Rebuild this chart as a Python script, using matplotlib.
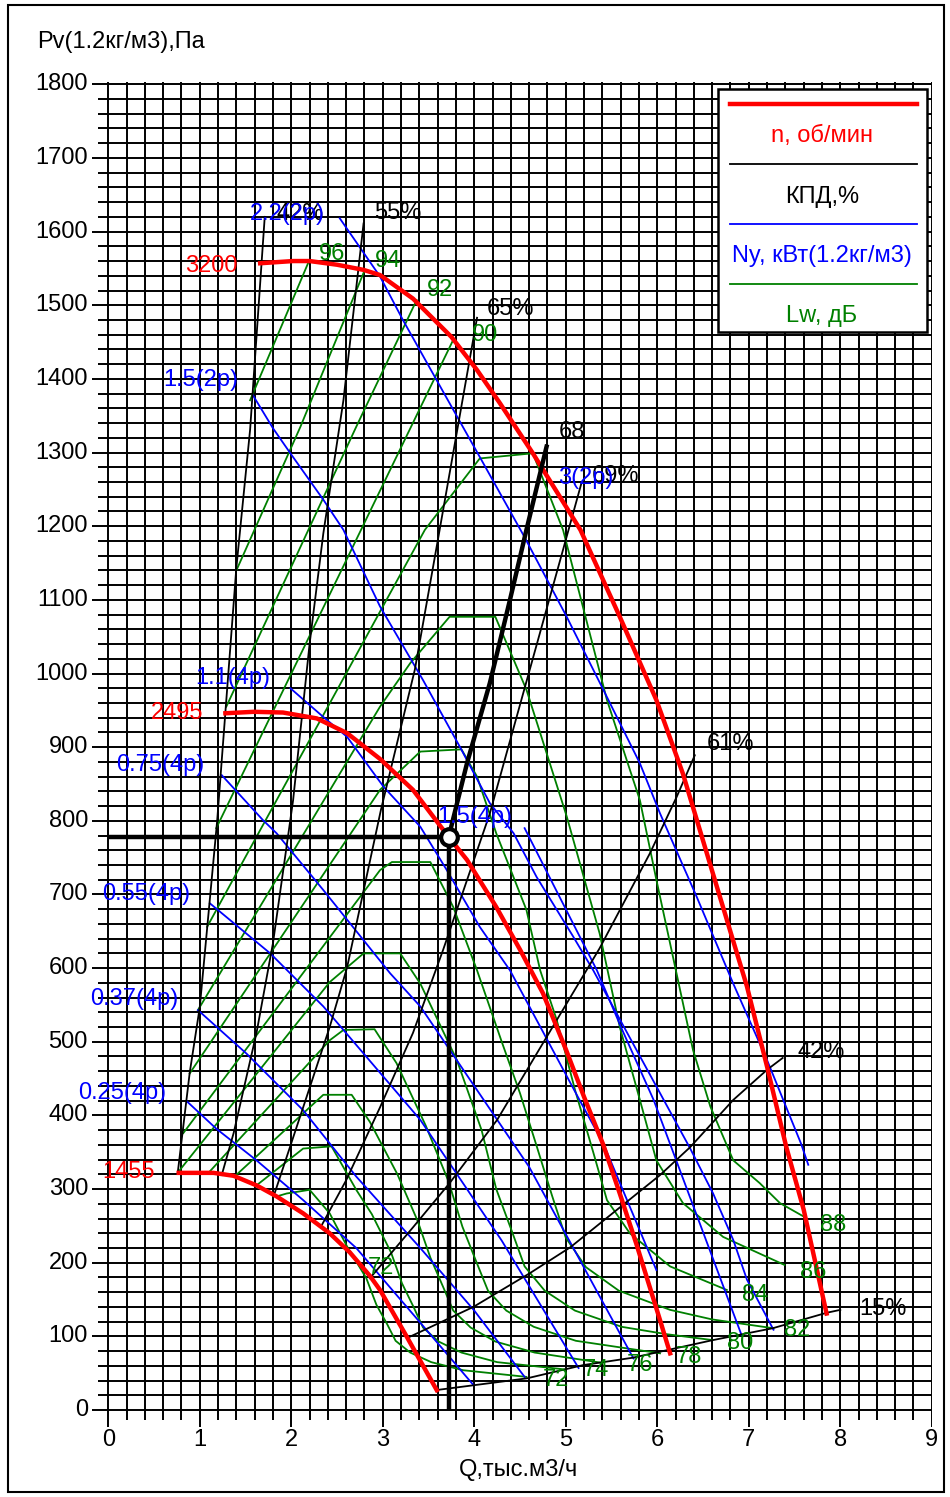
import matplotlib
matplotlib.use("Agg")
import matplotlib.pyplot as plt
from matplotlib.patches import Rectangle

plt.rcParams['font.family'] = ['Liberation Sans', 'DejaVu Sans']

# ---- fan curves, n rpm (Q thousand m3/h, Pv Pa)
n3200_q = [1.66, 2.02, 2.2, 2.5, 2.79, 2.97, 3.33, 3.75, 4.03, 4.28, 4.64, 5.16, 5.59, 5.99, 6.28, 6.65, 6.98, 7.2, 7.41, 7.6, 7.85]
n3200_p = [1557, 1560, 1560, 1555, 1548, 1541, 1509, 1457, 1412, 1367, 1299, 1195, 1077, 964, 864, 711, 575, 466, 357, 272, 131]
n2495_q = [1.28, 1.59, 1.91, 2.28, 2.61, 2.97, 3.33, 3.72, 3.92, 4.24, 4.5, 4.75, 5.0, 5.2, 5.41, 5.59, 5.77, 6.03, 6.14]
n2495_p = [946, 948, 947, 939, 919, 884, 842, 778, 747, 683, 625, 566, 490, 425, 360, 294, 226, 122, 77]
n1455_q = [0.77, 1.15, 1.37, 1.62, 1.84, 2.13, 2.42, 2.64, 2.86, 2.97, 3.26, 3.59]
n1455_p = [322, 322, 318, 305, 290, 267, 240, 214, 182, 163, 100, 27]

# ---- efficiency lines
eff42a_q = [0.76, 0.89, 1.0, 1.19, 1.29, 1.4, 1.55, 1.71]
eff42a_p = [323, 458, 547, 800, 964, 1144, 1331, 1620]
eff55_q = [1.24, 1.37, 1.62, 1.8, 2.02, 2.2, 2.35, 2.57, 2.79]
eff55_p = [319, 376, 512, 634, 828, 1040, 1190, 1371, 1611]
eff65_q = [1.82, 2.13, 2.42, 2.61, 2.98, 3.35, 3.6, 4.03]
eff65_p = [295, 411, 520, 601, 815, 1005, 1180, 1483]
eff69_q = [2.32, 2.6, 2.97, 3.33, 3.66, 4.17, 4.97, 5.17]
eff69_p = [248, 312, 411, 512, 625, 810, 1168, 1258]
eff61_q = [2.86, 3.33, 3.73, 4.25, 4.75, 5.37, 5.92, 6.21, 6.41]
eff61_p = [179, 248, 308, 394, 498, 627, 756, 832, 889]
eff42b_q = [3.27, 3.99, 4.61, 5.05, 5.56, 6.03, 6.36, 6.83, 7.2, 7.37]
eff42b_p = [98, 140, 186, 221, 272, 319, 357, 421, 462, 478]
eff15_q = [3.58, 4.575, 5.19, 5.73, 6.61, 7.26, 7.85, 8.0]
eff15_p = [27, 43, 61, 71, 95, 111, 132, 136]

# ---- system curve and operating point
sys_q = [3.72, 3.92, 4.17, 4.39, 4.57, 4.79]
sys_p = [778, 878, 987, 1100, 1195, 1308]
op_q = 3.72
op_p = 778

# ---- motor power lines, kW
pw22_q = [2.53, 2.97, 3.22, 3.59, 4.06, 4.55, 5.01, 5.41, 5.81, 6.03, 6.43, 6.83, 7.2, 7.57, 7.65]
pw22_p = [1618, 1539, 1480, 1398, 1294, 1185, 1077, 978, 878, 810, 697, 579, 475, 362, 333]
pw15b_q = [1.58, 1.8, 1.99, 2.35, 2.57, 2.97, 3.44, 3.84, 4.17, 4.43, 4.68, 5.08, 5.3, 5.61, 6.36, 6.61, 6.83, 6.98, 7.27]
pw15b_p = [1378, 1333, 1299, 1236, 1195, 1091, 991, 901, 824, 783, 724, 643, 597, 526, 355, 294, 231, 177, 109]
pw11_q = [1.99, 2.35, 2.61, 3.01, 3.41, 3.7, 4.06, 4.39, 5.15, 5.41, 5.99]
pw11_p = [980, 941, 914, 846, 792, 733, 656, 597, 421, 362, 190]
pw15_q = [4.55, 5.34, 5.61, 5.96, 6.92]
pw15_p = [790, 597, 518, 421, 102]
pw075_q = [1.24, 1.69, 1.84, 2.35, 3.08, 3.41, 4.6, 5.74]
pw075_p = [862, 801, 783, 706, 593, 548, 330, 70]
pw055_q = [1.11, 1.77, 2.35, 3.41, 4.3, 5.14]
pw055_p = [688, 620, 548, 394, 230, 57]
pw037_q = [0.98, 1.51, 2.13, 2.71, 3.41, 4.0, 4.55]
pw037_p = [543, 484, 407, 317, 220, 135, 45]
pw025_q = [0.86, 1.18, 1.62, 2.13, 2.71, 3.4, 3.99]
pw025_p = [419, 382, 339, 285, 220, 120, 34]

# ---- sound power Lw, dB
lw96_q = [1.55, 2.19]
lw96_p = [1371, 1559]
lw94_q = [1.4, 2.1, 2.8]
lw94_p = [1140, 1335, 1547]
lw92_q = [1.29, 2.71, 3.37]
lw92_p = [955, 1335, 1507]
lw90_q = [1.18, 3.77]
lw90_p = [790, 1453]
lw88_q = [1.08, 3.46, 4.06, 4.64, 4.97, 5.45, 5.81, 5.99, 6.21, 6.39, 6.58, 6.83, 7.12, 7.34, 7.61]
lw88_p = [656, 1195, 1292, 1299, 1195, 964, 828, 720, 593, 489, 412, 339, 308, 281, 262]
lw86_q = [0.98, 2.97, 3.3, 3.73, 4.23, 4.57, 5.01, 5.37, 5.59, 5.81, 5.99, 6.28, 6.72, 7.39]
lw86_p = [543, 955, 1014, 1077, 1077, 978, 806, 647, 520, 421, 339, 281, 235, 197]
lw84_q = [0.89, 2.97, 3.41, 3.86, 4.03, 4.24, 4.57, 4.72, 4.9, 5.1, 5.3, 5.45, 5.7, 6.14, 6.76]
lw84_p = [457, 842, 894, 897, 860, 783, 679, 597, 530, 435, 350, 285, 240, 195, 163]
lw82_q = [0.82, 2.97, 3.1, 3.52, 3.77, 4.03, 4.3, 4.5, 4.68, 4.85, 5.0, 5.22, 5.58, 6.14, 6.6, 7.27]
lw82_p = [376, 733, 744, 744, 683, 597, 500, 430, 359, 291, 234, 194, 162, 136, 123, 111]
lw80_q = [0.77, 2.42, 2.79, 3.19, 3.41, 3.81, 4.08, 4.24, 4.41, 4.55, 4.77, 5.1, 5.61, 6.1, 6.6]
lw80_p = [324, 581, 620, 620, 579, 475, 380, 300, 243, 195, 162, 135, 113, 103, 95]
lw78_q = [1.11, 2.42, 2.57, 2.91, 3.15, 3.47, 3.72, 3.87, 4.02, 4.15, 4.35, 4.65, 5.11, 6.03]
lw78_p = [324, 502, 516, 517, 471, 386, 310, 249, 202, 162, 135, 113, 94, 77]
lw76_q = [1.38, 2.35, 2.66, 2.86, 3.16, 3.38, 3.52, 3.66, 3.77, 3.96, 4.23, 4.66, 5.4]
lw76_p = [317, 428, 428, 391, 320, 257, 207, 167, 135, 112, 93, 78, 64]
lw74_q = [1.62, 2.13, 2.44, 2.71, 2.88, 3.09, 3.21, 3.34, 3.44, 3.61, 3.86, 4.25, 5.0]
lw74_p = [305, 355, 358, 299, 266, 214, 172, 139, 112, 93, 78, 65, 55]
lw72_q = [1.84, 1.95, 2.2, 2.42, 2.61, 2.82, 2.93, 3.05, 3.14, 3.3, 3.53, 3.88, 4.57]
lw72_p = [290, 294, 299, 267, 222, 179, 143, 116, 94, 78, 65, 54, 45]

x_ticks = [0, 1, 2, 3, 4, 5, 6, 7, 8, 9]
y_ticks = list(range(0, 1900, 100))

RED = '#ff0000'
BLUE = '#0000ff'
GREEN = '#008000'
FS = 17

fig = plt.figure(figsize=(9.5, 14.97), dpi=100)
ax = fig.add_axes([0.08989, 0.04088, 0.89095, 0.90528])
ax.set_xlim(-0.25, 9.0)
ax.set_ylim(-35, 1805)
ax.axis('off')

# grid with tick stubs
for i in range(46):
    x = i * 0.2
    ybot = -23 if i % 5 == 0 else -14
    ax.plot([x, x], [ybot, 1803], color='black', lw=1.4, zorder=1, solid_capstyle='butt')
for j in range(91):
    y = j * 20
    xl = -0.18 if j % 5 == 0 else -0.11
    ax.plot([xl, 9.0], [y, y], color='black', lw=1.4, zorder=1, solid_capstyle='butt')

for x in x_ticks:
    ax.text(x, -41, str(x), ha='center', va='center', fontsize=FS)
for y in y_ticks:
    ax.text(-0.222, y, str(y), ha='right', va='center', fontsize=FS)

# sound power
for q, p in [(lw96_q, lw96_p), (lw94_q, lw94_p), (lw92_q, lw92_p), (lw90_q, lw90_p),
             (lw88_q, lw88_p), (lw86_q, lw86_p), (lw84_q, lw84_p), (lw82_q, lw82_p),
             (lw80_q, lw80_p), (lw78_q, lw78_p), (lw76_q, lw76_p), (lw74_q, lw74_p),
             (lw72_q, lw72_p)]:
    ax.plot(q, p, color=GREEN, lw=1.3, zorder=3)

# power
for q, p in [(pw22_q, pw22_p), (pw15b_q, pw15b_p), (pw11_q, pw11_p), (pw15_q, pw15_p),
             (pw075_q, pw075_p), (pw055_q, pw055_p), (pw037_q, pw037_p), (pw025_q, pw025_p)]:
    ax.plot(q, p, color=BLUE, lw=1.3, zorder=4)

# efficiency
for q, p in [(eff42a_q, eff42a_p), (eff55_q, eff55_p), (eff65_q, eff65_p), (eff69_q, eff69_p),
             (eff61_q, eff61_p), (eff42b_q, eff42b_p), (eff15_q, eff15_p)]:
    ax.plot(q, p, color='black', lw=1.3, zorder=5)

# fan curves
for q, p in [(n3200_q, n3200_p), (n2495_q, n2495_p), (n1455_q, n1455_p)]:
    ax.plot(q, p, color=RED, lw=3.2, zorder=6)

# operating point
ax.plot([0, op_q], [op_p, op_p], color='black', lw=3.2, zorder=7, solid_capstyle='butt')
ax.plot([op_q, op_q], [0, op_p], color='black', lw=3.2, zorder=7, solid_capstyle='butt')
ax.plot(sys_q, sys_p, color='black', lw=3.2, zorder=7)
ax.plot([op_q], [op_p], marker='o', ms=12, mfc='white', mec='black', mew=3, zorder=8)

# labels
ax.text(1.41, 1553, '3200', color=RED, fontsize=FS, ha='right', va='center', zorder=9)
ax.text(1.04, 946, '2495', color=RED, fontsize=FS, ha='right', va='center', zorder=9)
ax.text(0.51, 323, '1455', color=RED, fontsize=FS, ha='right', va='center', zorder=9)

ax.text(1.84, 1624, '42%', fontsize=FS, ha='left', va='center', zorder=9)
ax.text(2.91, 1625, '55%', fontsize=FS, ha='left', va='center', zorder=9)
ax.text(4.14, 1495, '65%', fontsize=FS, ha='left', va='center', zorder=9)
ax.text(4.92, 1328, '68', fontsize=FS, ha='left', va='center', zorder=9)
ax.text(5.28, 1268, '69%', fontsize=FS, ha='left', va='center', zorder=9)
ax.text(6.54, 904, '61%', fontsize=FS, ha='left', va='center', zorder=9)
ax.text(7.53, 486, '42%', fontsize=FS, ha='left', va='center', zorder=9)
ax.text(8.21, 137, '15%', fontsize=FS, ha='left', va='center', zorder=9)

ax.text(1.55, 1624, '2.2(2p)', color=BLUE, fontsize=FS, ha='left', va='center', zorder=10)
ax.text(0.6, 1398, '1.5(2p)', color=BLUE, fontsize=FS, ha='left', va='center', zorder=10)
ax.text(4.92, 1265, '3(2p)', color=BLUE, fontsize=FS, ha='left', va='center', zorder=10)
ax.text(0.95, 994, '1.1(4p)', color=BLUE, fontsize=FS, ha='left', va='center', zorder=10)
ax.text(0.085, 876, '0.75(4p)', color=BLUE, fontsize=FS, ha='left', va='center', zorder=10)
ax.text(3.59, 805, '1.5(4p)', color=BLUE, fontsize=FS, ha='left', va='center', zorder=10)
ax.text(-0.07, 701, '0.55(4p)', color=BLUE, fontsize=FS, ha='left', va='center', zorder=10)
ax.text(-0.2, 558, '0.37(4p)', color=BLUE, fontsize=FS, ha='left', va='center', zorder=10)
ax.text(-0.33, 430, '0.25(4p)', color=BLUE, fontsize=FS, ha='left', va='center', zorder=10)

for txt, x, y in [('96', 2.3, 1570), ('94', 2.915, 1560), ('92', 3.48, 1521), ('90', 3.97, 1460),
                  ('88', 7.78, 251), ('86', 7.56, 187), ('84', 6.93, 156), ('82', 7.39, 109),
                  ('80', 6.76, 91), ('78', 6.2, 72), ('76', 5.67, 61), ('74', 5.19, 54),
                  ('72', 4.75, 41), ('72', 2.84, 193)]:
    ax.text(x, y, txt, color=GREEN, fontsize=FS, ha='left', va='center', zorder=9)

# legend box
ax.add_patch(Rectangle((6.663, 1463.7), 2.284, 329.9, facecolor='white', edgecolor='black', lw=1.8, zorder=12))
ax.plot([6.795, 8.838], [1773, 1773], color=RED, lw=3.2, zorder=13)
ax.text(7.8, 1730, 'n, об/мин', color=RED, fontsize=FS, ha='center', va='center', zorder=13)
ax.plot([6.795, 8.838], [1692, 1692], color='black', lw=1.3, zorder=13)
ax.text(7.8, 1647, 'КПД,%', color='black', fontsize=FS, ha='center', va='center', zorder=13)
ax.plot([6.795, 8.838], [1610, 1610], color=BLUE, lw=1.3, zorder=13)
ax.text(7.8, 1567, 'Ny, кВт(1.2кг/м3)', color=BLUE, fontsize=FS, ha='center', va='center', zorder=13)
ax.plot([6.795, 8.838], [1529, 1529], color=GREEN, lw=1.3, zorder=13)
ax.text(7.8, 1486, 'Lw, дБ', color=GREEN, fontsize=FS, ha='center', va='center', zorder=13)

# axis titles and frame
fig.text(37 / 950, 1 - 42 / 1497, 'Pv(1.2кг/м3),Па', fontsize=FS, ha='left', va='center')
fig.text(519 / 950, 1 - 1470 / 1497, 'Q,тыс.м3/ч', fontsize=FS, ha='center', va='center')
fig.add_artist(Rectangle((8 / 950, 5 / 1497), 936 / 950, 1487 / 1497, transform=fig.transFigure,
                         fill=False, edgecolor='black', lw=1.5))

fig.savefig('out.png', dpi=100)
